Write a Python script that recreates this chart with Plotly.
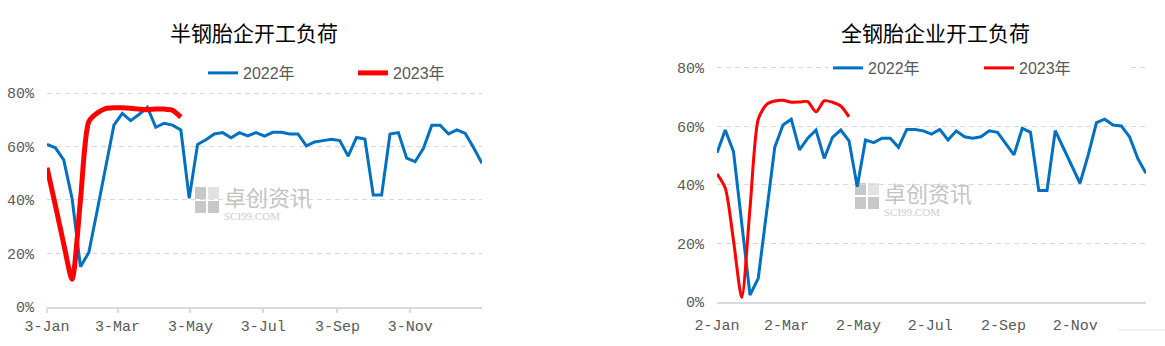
import pandas as pd
import plotly.graph_objects as go

W, H = 1165, 346

# ---------------- data ----------------
titles = ["半钢胎企开工负荷", "全钢胎企业开工负荷"]
series_names = ["2022年", "2023年"]

# weekly dates (left chart weeks start 3-Jan, right chart weeks start 2-Jan)
weeks_left = pd.date_range("2022-01-03", periods=53, freq="7D")
weeks_right = pd.date_range("2022-01-02", periods=53, freq="7D")

semi_2022 = [60.8, 59.5, 55, 40.5, 15, 20.3, 36, 52, 68, 72.4,
             69.7, 72, 74.7, 67.2, 68.7, 68, 66.2, 40.6, 60.8, 62.5,
             64.7, 65.2, 63.3, 65.2, 64, 65.2, 63.9, 65.3, 65.3, 64.7,
             64.7, 60.2, 61.7, 62.2, 62.7, 62.2, 56.4, 63.4, 62.8, 41.8,
             41.8, 64.7, 65.2, 55.6, 54.3, 59.3, 68, 68, 64.7, 66.2,
             64.9, 59.5, 53.7]
semi_2023 = [52, 38, 23.5, 10.3, 40, 69.3, 72.5, 74.2, 74.5, 74.5,
             74.3, 74, 73.8, 74, 74, 73.6, 71]

full_2022 = [51, 58.8, 51.4, 26, 2.4, 8.1, 30.5, 52.9, 60.5, 62.5,
             52, 56, 58.8, 49.1, 56.3, 58.8, 55.1, 39.4, 55.4, 54.5,
             56, 56, 52.9, 59, 59, 58.5, 57.4, 59, 55.4, 58.5,
             56.5, 56, 56.5, 58.5, 58, 54, 50.3, 59.4, 58, 38.1,
             38.1, 58.6, 52.6, 46.6, 40.6, 50.3, 61.3, 62.5, 60.5, 60.2,
             56.5, 49.1, 44]
full_2023 = [43.8, 39, 21, 1.5, 32, 62.5, 67.5, 68.7, 69, 68.3,
             68.4, 68.5, 65, 68.8, 68.3, 67, 63.3]

y_ticks = [0, 20, 40, 60, 80]
y_ticktext = ["0%", "20%", "40%", "60%", "80%"]

BLUE = "#0070C0"
RED = "#FF0000"
GRID = "#D9D9D9"
TXT = "#595959"
TICKFONT = dict(family="Liberation Mono, DejaVu Sans Mono, monospace", size=15, color=TXT)
LEGFONT = dict(family="Liberation Sans, Noto Sans CJK SC, sans-serif", size=16, color=TXT)

fig = go.Figure()

# left chart
fig.add_trace(go.Scatter(x=weeks_left, y=semi_2022, name=series_names[0], mode="lines",
                         line=dict(color=BLUE, width=3), xaxis="x", yaxis="y", legend="legend"))
fig.add_trace(go.Scatter(x=weeks_left[:len(semi_2023)], y=semi_2023, name=series_names[1], mode="lines",
                         line=dict(color=RED, width=5, shape="spline", smoothing=0.7),
                         xaxis="x", yaxis="y", legend="legend"))
# right chart
fig.add_trace(go.Scatter(x=weeks_right, y=full_2022, name=series_names[0], mode="lines",
                         line=dict(color=BLUE, width=3), xaxis="x2", yaxis="y2", legend="legend2"))
fig.add_trace(go.Scatter(x=weeks_right[:len(full_2023)], y=full_2023, name=series_names[1], mode="lines",
                         line=dict(color=RED, width=3, shape="spline", smoothing=0.7),
                         xaxis="x2", yaxis="y2", legend="legend2"))

def px_x(p):
    return p / W

def px_y(p):
    return (H - p) / H

# 0% pixel row and pixels per percent for each chart
l_bot, l_ppu = 306.7, 2.67
r_bot, r_ppu = 302.0, 2.925
ymax = 81

yaxis_common = dict(range=[0, ymax], tickvals=y_ticks, ticktext=y_ticktext, showgrid=True,
                    gridcolor=GRID, gridwidth=1.3, griddash="5px,4px", zeroline=False,
                    showline=False, ticks="", tickfont=TICKFONT, ticklabelstandoff=12,
                    fixedrange=True, automargin=False)

fig.update_layout(
    width=W, height=H, margin=dict(l=0, r=0, t=0, b=0, autoexpand=False),
    paper_bgcolor="white", plot_bgcolor="white",
    showlegend=True,
    xaxis=dict(domain=[px_x(47), px_x(482)], type="date",
               range=["2022-01-03", "2023-01-02"], tick0="2022-01-03", dtick="M2",
               tickformat="%-d-%b", showgrid=False, zeroline=False,
               showline=True, linecolor=GRID, linewidth=1.5,
               ticks="outside", ticklen=5, tickcolor=GRID, tickwidth=1.5,
               tickfont=TICKFONT, anchor="y", automargin=False),
    yaxis=dict(domain=[px_y(l_bot), px_y(l_bot - ymax * l_ppu)], anchor="x", **yaxis_common),
    xaxis2=dict(domain=[px_x(717), px_x(1146)], type="date",
                range=["2022-01-02", "2023-01-01"], tick0="2022-01-02", dtick="M2",
                tickformat="%-d-%b", showgrid=False, zeroline=False,
                showline=True, linecolor=GRID, linewidth=1.5,
                ticks="", ticklabelstandoff=8,
                tickfont=TICKFONT, anchor="y2", automargin=False),
    yaxis2=dict(domain=[px_y(r_bot), px_y(r_bot - ymax * r_ppu)], anchor="x2", **yaxis_common),
    legend=dict(orientation="h", x=px_x(203), y=px_y(73), xanchor="left", yanchor="middle",
                font=LEGFONT, bgcolor="rgba(0,0,0,0)", entrywidth=105, tracegroupgap=0),
    legend2=dict(orientation="h", x=px_x(828), y=px_y(68), xanchor="left", yanchor="middle",
                 font=LEGFONT, bgcolor="rgba(255,255,255,1)", entrywidth=106, tracegroupgap=0),
)

annotations = [
    dict(text=titles[0], x=px_x(254), y=px_y(32), xref="paper", yref="paper",
         xanchor="center", yanchor="middle",
         showarrow=False, font=dict(family="Noto Sans CJK SC", size=21, color="#000000")),
    dict(text=titles[1], x=px_x(935), y=px_y(32), xref="paper", yref="paper",
         xanchor="center", yanchor="middle",
         showarrow=False, font=dict(family="Noto Sans CJK SC", size=21, color="#000000")),
]

shapes = []
# watermarks (one text block: big Chinese line + small site line)
wm_text = ("<span style='font-size:22px;font-family:Noto Sans CJK SC;color:#C4C4C4'>卓创资讯</span>"
           "<br><span style='font-family:Liberation Serif;color:#CDCDCD'>SCI99.COM</span>")
for (ix, iy) in [(195, 187), (855, 183)]:
    annotations.append(dict(text=wm_text, x=px_x(ix + 27), y=px_y(iy + 14), xref="paper", yref="paper",
                            xanchor="left", yanchor="middle", align="left", showarrow=False,
                            font=dict(family="Liberation Serif", size=11, color="#CDCDCD")))
    for (dx, dy, c) in [(0, 0, "#C8C8C8"), (13, 0, "#E2E2E2"), (0, 14, "#C8C8C8"), (13, 14, "#C8C8C8")]:
        shapes.append(dict(type="rect", xref="paper", yref="paper",
                           x0=px_x(ix + dx), x1=px_x(ix + dx + 11),
                           y0=px_y(iy + dy + 12), y1=px_y(iy + dy),
                           line=dict(width=0), fillcolor=c, layer="below"))
# faint line bottom right
shapes.append(dict(type="line", xref="paper", yref="paper", x0=px_x(1118), x1=1.0,
                   y0=px_y(330), y1=px_y(330), line=dict(color="#E6E6E6", width=1)))

fig.update_layout(annotations=annotations, shapes=shapes)

fig.write_html("out.html")
